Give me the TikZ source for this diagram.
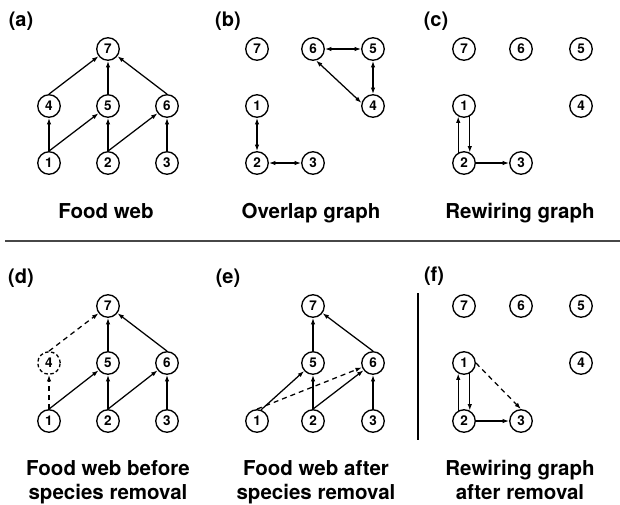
\documentclass[tikz,border=0pt]{standalone}
\usepackage{fontspec}
\setmainfont{TeX Gyre Heros}
\usetikzlibrary{arrows.meta}
\begin{document}
\begin{tikzpicture}[x=1pt,y=-1pt,
  nd/.style={circle,draw,line width=1.35pt,minimum size=22.5pt,inner sep=0pt,font=\fontsize{13.5}{15}\selectfont\bfseries},
  gone/.style={nd,dash pattern=on 3.5pt off 2.5pt},
  arr/.style={line width=1.25pt,-{Latex[length=6.5pt,width=4.5pt]}},
  dbl/.style={line width=1.25pt,{Latex[length=6.5pt,width=4.5pt]}-{Latex[length=6.5pt,width=4.5pt]}},
  dsh/.style={arr,dash pattern=on 5pt off 4pt},
  lab/.style={font=\fontsize{20}{24}\selectfont\bfseries,inner sep=0pt},
  captxt/.style={font=\fontsize{20.5}{24}\selectfont\bfseries,inner sep=0pt,anchor=base}
]
\useasboundingbox (0,0) rectangle (620,504);

% ---------- (a) Food web ----------
\node[lab] (la) at (21,21.5) {(a)};
\node[nd] (a7) at (108,49) {7};
\node[nd] (a4) at (49,106) {4};
\node[nd] (a5) at (108,106) {5};
\node[nd] (a6) at (167,106) {6};
\node[nd] (a1) at (49,163) {1};
\node[nd] (a2) at (108,163) {2};
\node[nd] (a3) at (167,163) {3};
\draw[arr] (a1.north) -- (a4);
\draw[arr] (a1.north) -- (a5);
\draw[arr] (a2.north) -- (a5);
\draw[arr] (a2.north) -- (a6);
\draw[arr] (a3.north) -- (a6);
\draw[arr] (a4.north) -- (a7);
\draw[arr] (a5.north) -- (a7);
\draw[arr] (a6.north) -- (a7);
\node[captxt] (ca) at (106,218) {Food web};

% ---------- (b) Overlap graph ----------
\node[lab] (lb) at (228,21.5) {(b)};
\node[nd] (b7) at (257,49) {7};
\node[nd] (b6) at (313,49) {6};
\node[nd] (b5) at (373,49) {5};
\node[nd] (b1) at (257,106) {1};
\node[nd] (b4) at (373,106) {4};
\node[nd] (b2) at (257,163) {2};
\node[nd] (b3) at (313,163) {3};
\draw[dbl] (b6) -- (b5);
\draw[dbl] (b5) -- (b4);
\draw[dbl] (b6.-75) -- (b4.165);
\draw[dbl] (b1) -- (b2);
\draw[dbl] (b2) -- (b3);
\node[captxt] (cb) at (311,218) {Overlap graph};

% ---------- (c) Rewiring graph ----------
\node[lab] (lc) at (436,21.5) {(c)};
\node[nd] (c7) at (464,49) {7};
\node[nd] (c6) at (521,49) {6};
\node[nd] (c5) at (581,49) {5};
\node[nd] (c1) at (464,106) {1};
\node[nd] (c4) at (581,106) {4};
\node[nd] (c2) at (464,163) {2};
\node[nd] (c3) at (521,163) {3};
\draw[arr] (c2.119) -- (c1.241);
\draw[arr] (c1.-61) -- (c2.61);
\draw[arr] (c2) -- (c3);
\node[captxt] (cc) at (520,218) {Rewiring graph};

% ---------- separator ----------
\draw[line width=2pt,color=black!72] (5,240.5) -- (620,240.5);

% ---------- (d) Food web before species removal ----------
\node[lab] (ld) at (21,278.5) {(d)};
\node[nd] (d7) at (108,306) {7};
\node[gone] (d4) at (49,363) {4};
\node[nd] (d5) at (108,363) {5};
\node[nd] (d6) at (167,363) {6};
\node[nd] (d1) at (49,421) {1};
\node[nd] (d2) at (108,421) {2};
\node[nd] (d3) at (167,421) {3};
\draw[dsh] (d1.north) -- (d4);
\draw[arr] (d1.north) -- (d5);
\draw[arr] (d2.north) -- (d5);
\draw[arr] (d2.north) -- (d6);
\draw[arr] (d3.north) -- (d6);
\draw[dsh] (d4.north) -- (d7);
\draw[arr] (d5.north) -- (d7);
\draw[arr] (d6.north) -- (d7);
\node[captxt] (cd1) at (108,475) {Food web before};
\node[captxt] (cd2) at (108,499) {species removal};

% ---------- (e) Food web after species removal ----------
\node[lab] (le) at (228,278.5) {(e)};
\node[nd] (e7) at (313,306) {7};
\node[nd] (e5) at (313,363) {5};
\node[nd] (e6) at (373,363) {6};
\node[nd] (e1) at (257,421) {1};
\node[nd] (e2) at (313,421) {2};
\node[nd] (e3) at (373,421) {3};
\draw[arr] (e1.70) -- (e5);
\draw[dsh] (e1.north) -- (e6);
\draw[arr] (e2.north) -- (e5);
\draw[arr] (e2.north) -- (e6);
\draw[arr] (e3.north) -- (e6);
\draw[arr] (e5.north) -- (e7);
\draw[arr] (e6.north) -- (e7);
\node[captxt] (ce1) at (316,475) {Food web after};
\node[captxt] (ce2) at (316,499) {species removal};

% ---------- (f) Rewiring graph after removal ----------
\node[lab] (lf) at (434,276.5) {(f)};
\draw[line width=1.3pt] (418,293) -- (418,440);
\node[nd] (f7) at (464,306) {7};
\node[nd] (f6) at (521,306) {6};
\node[nd] (f5) at (581,306) {5};
\node[nd] (f1) at (464,363) {1};
\node[nd] (f4) at (581,363) {4};
\node[nd] (f2) at (464,421) {2};
\node[nd] (f3) at (521,421) {3};
\draw[arr] (f2.119) -- (f1.241);
\draw[arr] (f1.-61) -- (f2.61);
\draw[arr] (f2) -- (f3);
\draw[dsh] (f1.east) -- (f3.north);
\node[captxt] (cf1) at (520,475) {Rewiring graph};
\node[captxt] (cf2) at (520,499) {after removal};
\end{tikzpicture}
\end{document}
